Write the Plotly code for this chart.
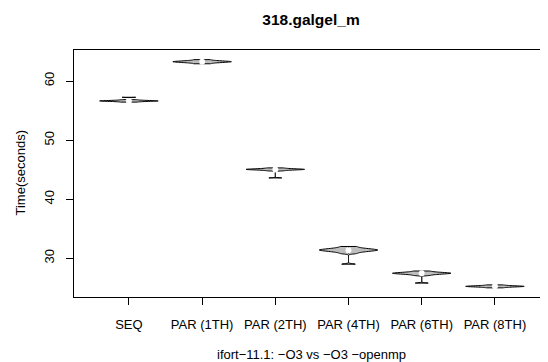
import numpy as np
import plotly.graph_objects as go

# ---- data (run times in seconds) ----
categories = ["SEQ", "PAR (1TH)", "PAR (2TH)", "PAR (4TH)", "PAR (6TH)", "PAR (8TH)"]
seq_times  = [56.43, 56.485, 56.526, 56.554, 56.577, 56.596, 56.614, 56.63, 56.646,
              56.664, 56.683, 56.706, 56.734, 56.775, 56.83, 57.25]
par1_times = [62.92, 63.017, 63.088, 63.137, 63.177, 63.211, 63.242, 63.27, 63.298,
              63.329, 63.363, 63.403, 63.452, 63.523, 63.62]
par2_times = [44.80, 44.869, 44.92, 44.955, 44.984, 45.008, 45.03, 45.05, 45.07,
              45.092, 45.117, 45.145, 45.18, 45.231, 45.30, 43.60]
par4_times = [30.80, 30.966, 31.088, 31.172, 31.24, 31.30, 31.352, 31.40, 31.448,
              31.50, 31.56, 31.628, 31.712, 31.834, 32.00, 29.00]
par6_times = [27.09, 27.195, 27.272, 27.326, 27.369, 27.406, 27.44, 27.47, 27.50,
              27.534, 27.571, 27.614, 27.668, 27.745, 27.85, 25.80]
par8_times = [25.00, 25.069, 25.12, 25.155, 25.184, 25.208, 25.23, 25.25, 25.27,
              25.292, 25.317, 25.345, 25.38, 25.431, 25.50]
bandwidths = [0.03, 0.05, 0.04, 0.09, 0.06, 0.04]
y_ticks = [30, 40, 50, 60]

series = [seq_times, par1_times, par2_times, par4_times, par6_times, par8_times]
positions = list(range(1, len(categories) + 1))

FONT = "Liberation Sans, Arial, Helvetica, sans-serif"

# page body has an 8px margin: figure is laid out 8px up/left of the target pixels
W, H = 540, 354
L, T, B = 66, 42, 65
PLOT_H = H - T - B
PLOT_W = W - L

fig = go.Figure()
for pos, name, vals, bw in zip(positions, categories, series, bandwidths):
    fig.add_trace(go.Violin(
        x0=pos, y=vals, name=name, orientation="v",
        width=0.8, scalemode="width", spanmode="hard", bandwidth=bw,
        fillcolor="#bebebe", opacity=1,
        line=dict(color="black", width=1),
        points=False,
        box=dict(visible=True, width=0.07, fillcolor="black",
                 line=dict(color="black", width=1)),
        meanline=dict(visible=False),
        showlegend=False, hoverinfo="y",
    ))

medians = [float(np.median(v)) for v in series]
fig.add_trace(go.Scatter(
    x=positions, y=medians, mode="markers",
    marker=dict(color="white", size=6, line=dict(width=0)),
    showlegend=False, hoverinfo="skip",
))

fig.update_layout(
    width=W, height=H,
    margin=dict(l=L, r=0, t=T, b=B),
    paper_bgcolor="white", plot_bgcolor="white",
    violinmode="overlay",
    font=dict(family=FONT, size=13, color="black"),
    title=dict(text="<b>318.galgel_m</b>", x=(303 / W), xanchor="center",
               y=1 - 12 / H, yanchor="middle",
               font=dict(family=FONT, size=15.5, color="black")),
    xaxis=dict(
        range=[0.25, 6.725], tickmode="array", tickvals=positions, ticktext=categories,
        showgrid=False, zeroline=False,
        showline=True, mirror=True, linecolor="black", linewidth=1,
        ticks="outside", ticklen=7, tickcolor="black", tickwidth=1,
        ticklabelstandoff=8,
        tickfont=dict(family=FONT, size=13, color="black"),
    ),
    yaxis=dict(
        range=[23.45, 65.25], tickmode="array", tickvals=y_ticks,
        showgrid=False, zeroline=False,
        showline=True, mirror=False, linecolor="black", linewidth=1,
        ticks="outside", ticklen=7, tickcolor="black", tickwidth=1,
        tickangle=-90, ticklabelstandoff=7,
        tickfont=dict(family=FONT, size=13, color="black"),
    ),
    annotations=[
        dict(text="ifort\u221211.1: \u2212O3 vs \u2212O3 \u2212openmp",
             xref="paper", yref="paper", x=0.5, y=-57 / PLOT_H,
             xanchor="center", yanchor="middle", showarrow=False,
             font=dict(family=FONT, size=13, color="black")),
        dict(text="Time(seconds)", textangle=-90,
             xref="paper", yref="paper", x=(12 - L) / PLOT_W, y=0.5,
             xanchor="center", yanchor="middle", showarrow=False,
             font=dict(family=FONT, size=13, color="black")),
    ],
)

fig.write_html("out.html")
